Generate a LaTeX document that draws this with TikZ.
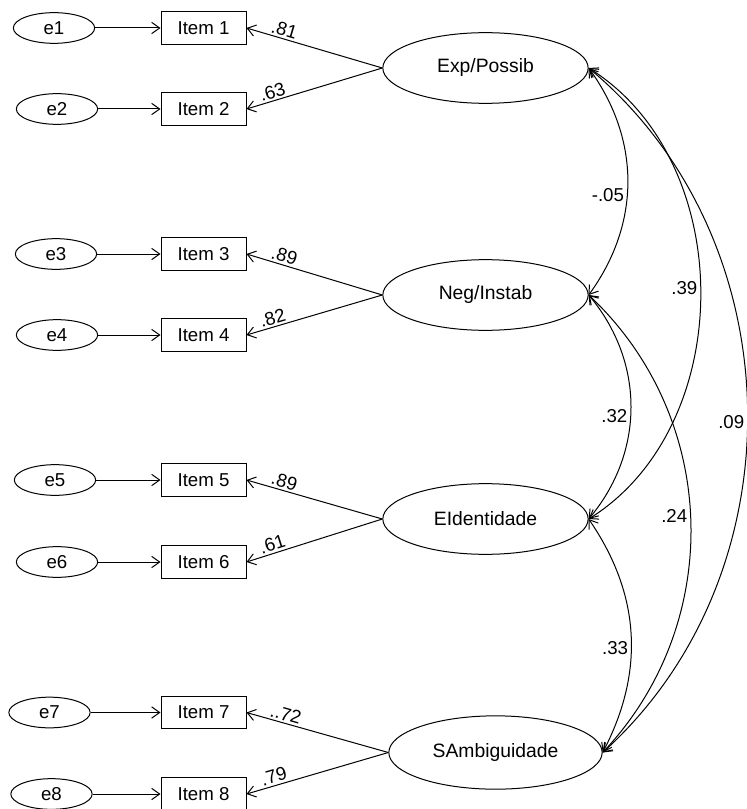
\documentclass[tikz,border=0pt]{standalone}
\usepackage{fontspec}
\setmainfont{Liberation Sans}
\usetikzlibrary{arrows.meta,shapes.geometric}

\begin{document}
\begin{tikzpicture}[x=0.75pt,y=-0.75pt,>={Straight Barb[length=6pt,width=8.5pt]},
    line width=0.75pt,font=\fontsize{14}{16}\selectfont,
    item node/.style={draw,minimum width=63.75pt,minimum height=24.5pt,inner sep=0pt},
    err node/.style={draw,ellipse,minimum width=61pt,minimum height=23pt,inner sep=0pt},
    lat node/.style={draw,ellipse,minimum width=154pt,minimum height=53pt,inner sep=0pt,
      font=\fontsize{14.5}{16}\selectfont},
    load/.style={sloped,above,inner sep=1.5pt},
    cov/.style={left,inner sep=2pt}]
    \useasboundingbox (0,0) rectangle (746,809);

    % latent factors
    \node[lat node] (exp) at (485.5,68) {Exp/Possib};
    \node[lat node] (neg) at (485.5,295) {Neg/Instab};
    \node[lat node] (eid) at (485.5,519) {EIdentidade};
    \node[lat node,minimum width=160pt,minimum height=55pt] (samb) at (495.5,752.5) {SAmbiguidade};

    % observed items
    \node[item node] (item1) at (203.5,28) {Item 1};
    \node[item node] (item2) at (203.5,109) {Item 2};
    \node[item node] (item3) at (203.5,254) {Item 3};
    \node[item node] (item4) at (203.5,335) {Item 4};
    \node[item node] (item5) at (203.5,480) {Item 5};
    \node[item node] (item6) at (203.5,562) {Item 6};
    \node[item node] (item7) at (203.5,712.5) {Item 7};
    \node[item node] (item8) at (203.5,794) {Item 8};

    % errors
    \node[err node] (e1) at (54,28) {e1};
    \node[err node] (e2) at (57,109) {e2};
    \node[err node] (e3) at (56,254) {e3};
    \node[err node] (e4) at (57,335) {e4};
    \node[err node] (e5) at (55,480) {e5};
    \node[err node] (e6) at (57,562) {e6};
    \node[err node] (e7) at (49.5,712.5) {e7};
    \node[err node] (e8) at (51.5,794) {e8};

    \path
      (e1) edge[->] (item1)
      (e2) edge[->] (item2)
      (e3) edge[->] (item3)
      (e4) edge[->] (item4)
      (e5) edge[->] (item5)
      (e6) edge[->] (item6)
      (e7) edge[->] (item7)
      (e8) edge[->] (item8);

    \path
      (exp.west) edge[->] node[load,pos=.74] {.81} (item1.east)
      (exp.west) edge[->] node[load,pos=.79] {.63} (item2.east)
      (neg.west) edge[->] node[load,pos=.74] {.89} (item3.east)
      (neg.west) edge[->] node[load,pos=.79] {.82} (item4.east)
      (eid.west) edge[->] node[load,pos=.74] {.89} (item5.east)
      (eid.west) edge[->] node[load,pos=.79] {.61} (item6.east)
      (samb.west) edge[->] node[load,pos=.74] {..72} (item7.east)
      (samb.west) edge[->] node[load,pos=.79] {.79} (item8.east);

    % correlations
    \path
      (exp.east) edge[<->,bend left=36] node[cov,pos=.56] {-.05} (neg.east)
      (exp.east) edge[<->,bend left=58] node[cov,pos=.49] {.39} (eid.east)
      (exp.east) edge[<->,bend left=49] node[cov,pos=.52] {.09} (samb.east)
      (neg.east) edge[<->,bend left=40] node[cov,pos=.54] {.32} (eid.east)
      (neg.east) edge[<->,bend left=45] node[cov,pos=.49] {.24} (samb.east)
      (eid.east) edge[<->,bend left=31] node[cov,pos=.56] {.33} (samb.east);
  \end{tikzpicture}
\end{document}
